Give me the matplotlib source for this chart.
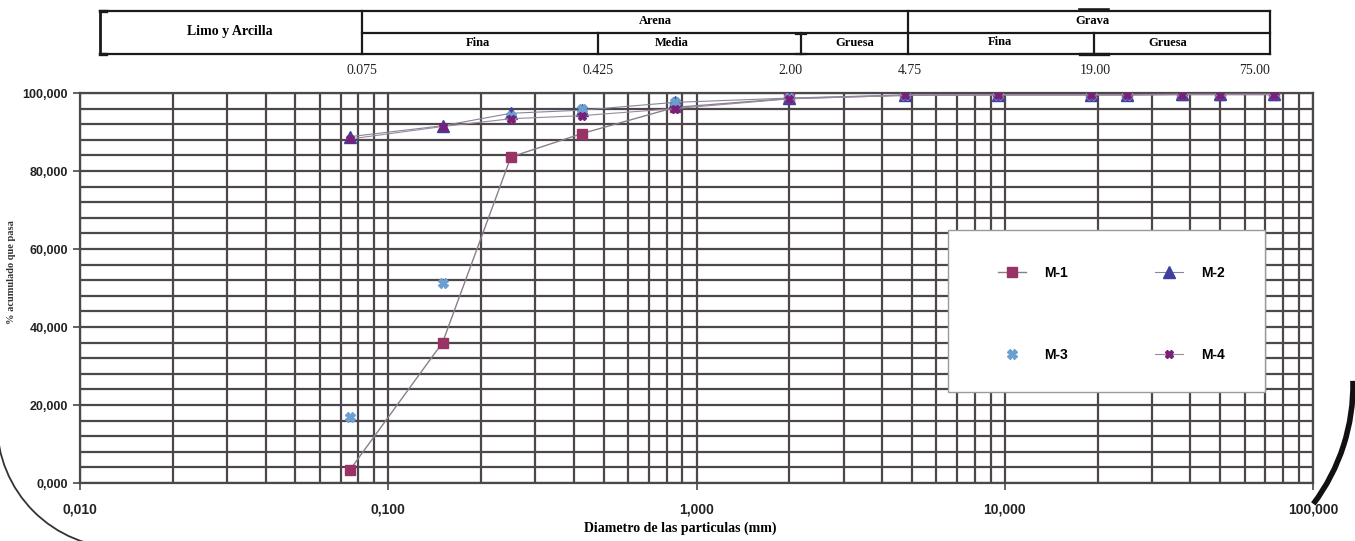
import numpy as np
import matplotlib
matplotlib.use("Agg")
import matplotlib.pyplot as plt
import matplotlib.patches as patches
import matplotlib.lines as lines
from matplotlib.ticker import MultipleLocator, LogLocator, FuncFormatter

# tamices (mm) y % acumulado que pasa
sizes = [0.075, 0.15, 0.25, 0.425, 0.85, 2.0, 4.75, 9.5, 19.0, 25.0, 37.5, 50.0, 75.0]
m1 = [3.3, 36.0, 83.6, 89.6, 96.3, 98.6, 99.4, 99.5, 99.5, 99.5, 99.6, 99.6, 99.6]
m2 = [88.8, 91.6, 94.8, 95.6, 97.6, 98.7, 99.5, 99.6, 99.6, 99.6, 99.7, 99.7, 99.7]
m3 = [16.9, 51.2, 94.2, 96.0, 97.8, 98.7, 99.5, 99.6, 99.6, 99.6, 99.7, 99.7, 99.7]
m4 = [88.2, 91.4, 93.4, 94.2, 96.0, 98.5, 99.4, 99.5, 99.5, 99.5, 99.6, 99.6, 99.6]
series_names = ["M-1", "M-2", "M-3", "M-4"]

# clasificacion (tabla superior)
limits_text = ["0.075", "0.425", "2.00", "4.75", "19.00", "75.00"]

W, H = 1355, 541
fig = plt.figure(figsize=(W / 100, H / 100), dpi=100)
fig.patch.set_facecolor("white")

def fx(px):
    return px / W

def fy(py):
    return 1 - py / H

ax = fig.add_axes([fx(80), fy(483), fx(1313) - fx(80), fy(93) - fy(483)])
gc = "#4d474b"

h1, = ax.plot(sizes, m1, color="#8c7d8c", lw=1.0, marker="s", ms=7, mfc="#993366", mec="#993366", label=series_names[0], zorder=4)
h2, = ax.plot(sizes, m2, color="#8585a0", lw=0.8, marker="^", ms=8, mfc="#3f3f9f", mec="#3f3f9f", label=series_names[1], zorder=4)
h3, = ax.plot(sizes, m3, color="none", lw=0, marker="X", ms=7, mfc="#6a9fd0", mec="#6a9fd0", label=series_names[2], zorder=4)
h4, = ax.plot(sizes, m4, color="#9a8a9a", lw=0.8, marker="X", ms=6, mfc="#7a1f7a", mec="#7a1f7a", label=series_names[3], zorder=4)

ax.set_xscale("log")
ax.set_xlim(0.01, 100)
ax.set_ylim(0, 100)
ax.yaxis.set_major_locator(MultipleLocator(20))
ax.yaxis.set_minor_locator(MultipleLocator(4))
ax.xaxis.set_major_locator(LogLocator(base=10))
ax.xaxis.set_minor_locator(LogLocator(base=10, subs=np.arange(2, 10)))
ax.grid(which="both", color=gc, lw=1.6)
ax.set_axisbelow(True)
for s in ax.spines.values():
    s.set_color(gc)
    s.set_linewidth(1.6)

fmt = FuncFormatter(lambda v, p: f"{v:.3f}".replace(".", ","))
ax.xaxis.set_major_formatter(fmt)
ax.yaxis.set_major_formatter(fmt)
ax.xaxis.set_minor_formatter(FuncFormatter(lambda v, p: ""))
ax.tick_params(which="minor", length=0)
ax.tick_params(which="major", length=5, color=gc, width=1.2)
ax.tick_params(axis="x", which="major", pad=9)
for t in ax.get_xticklabels():
    t.set_fontfamily("Liberation Sans")
    t.set_fontweight("bold")
    t.set_fontsize(10)
    t.set_color("#222222")
for t in ax.get_yticklabels():
    t.set_fontfamily("Liberation Sans")
    t.set_fontweight("bold")
    t.set_fontsize(9)
    t.set_color("#222222")

# caja de leyenda (tapa la cuadricula)
box = patches.Rectangle((0.704, 0.233), 0.257, 0.416, transform=ax.transAxes,
                        facecolor="white", edgecolor="#9a9a9a", lw=1.0, zorder=5)
ax.add_patch(box)
leg = ax.legend([h1, h3, h2, h4], [series_names[0], series_names[2], series_names[1], series_names[3]],
                loc="center", bbox_to_anchor=(0.704 + 0.257 / 2 + 0.004, 0.233 + 0.416 / 2 - 0.008),
                ncol=2, frameon=False,
                prop={"family": "Liberation Sans", "weight": "bold", "size": 10},
                labelspacing=4.9, handlelength=2.0, handletextpad=1.3, columnspacing=6.3)
leg.set_zorder(6)

fig.text(fx(680), fy(528), "Diametro de las particulas (mm)", ha="center", va="center",
         family="Liberation Serif", weight="bold", fontsize=10)
fig.text(fx(12), fy(272), "% acumulado que pasa", ha="center", va="center", rotation=90,
         family="Liberation Serif", weight="bold", fontsize=7.5, color="#333333")

# tabla de clasificacion
tc = "#1a1a1a"
def hline(x0, x1, y, lw=1.6):
    fig.add_artist(lines.Line2D([fx(x0), fx(x1)], [fy(y), fy(y)], color=tc, lw=lw))

def vline(x, y0, y1, lw=1.6):
    fig.add_artist(lines.Line2D([fx(x), fx(x)], [fy(y0), fy(y1)], color=tc, lw=lw))

hline(100, 1270, 11)
hline(100, 1270, 54)
hline(362, 1270, 33)
vline(100, 11, 54, lw=2)
hline(100, 106, 11, lw=2.4)
hline(100, 106, 54, lw=2.4)
vline(362, 11, 54)
vline(598, 33, 54)
vline(801, 33, 54)
hline(796, 806, 34)
hline(796, 806, 54)
vline(908, 11, 54)
vline(1094, 33, 54)
hline(1080, 1108, 10, lw=2.6)
hline(1080, 1108, 54, lw=2.4)
vline(1270, 11, 54)

serif = "Liberation Serif"
fig.text(fx(230), fy(32), "Limo y Arcilla", ha="center", va="center", family=serif, weight="bold", fontsize=10)
fig.text(fx(655), fy(21), "Arena", ha="center", va="center", family=serif, weight="bold", fontsize=9)
fig.text(fx(1092), fy(21), "Grava", ha="center", va="center", family=serif, weight="bold", fontsize=9)
fig.text(fx(478), fy(43), "Fina", ha="center", va="center", family=serif, weight="bold", fontsize=9)
fig.text(fx(672), fy(43), "Media", ha="center", va="center", family=serif, weight="bold", fontsize=9)
fig.text(fx(855), fy(43), "Gruesa", ha="center", va="center", family=serif, weight="bold", fontsize=9)
fig.text(fx(1000), fy(42), "Fina", ha="center", va="center", family=serif, weight="bold", fontsize=9)
fig.text(fx(1168), fy(43), "Gruesa", ha="center", va="center", family=serif, weight="bold", fontsize=9)

label_px = [362, 598, 790, 910, 1095, 1255]
for txt, px in zip(limits_text, label_px):
    fig.text(fx(px), fy(71), txt, ha="center", va="center", family=serif, fontsize=10, color="#222222")

# borde curvo del escaneo
fig.add_artist(patches.Arc((fx(122), fy(423)), 250 / W, 250 / H, theta1=180, theta2=270,
                           transform=fig.transFigure, color="#333333", lw=1.3))
fig.add_artist(patches.Arc((fx(1155), fy(385)), 396 / W, 396 / H, theta1=-62, theta2=3,
                           transform=fig.transFigure, color="#111111", lw=4))

fig.savefig("out.png", dpi=100, facecolor="white")
